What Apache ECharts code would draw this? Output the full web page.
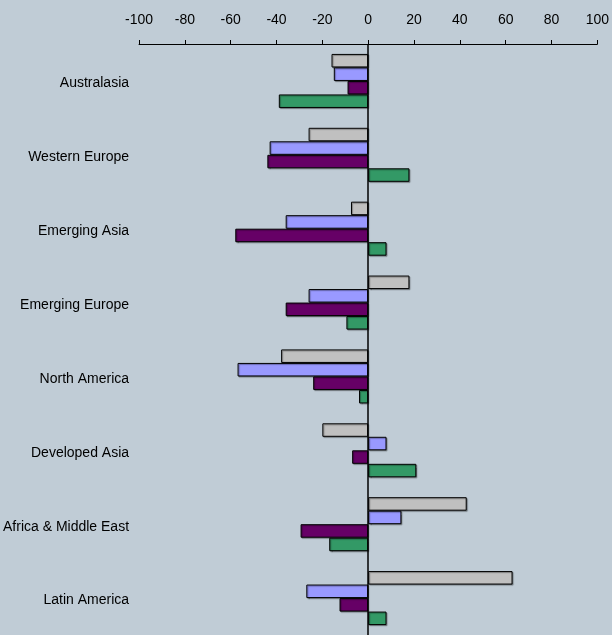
<!DOCTYPE html>
<html>
<head>
<meta charset="utf-8">
<script src="https://cdn.jsdelivr.net/npm/echarts@6/dist/echarts.min.js"></script>
<style>
  html, body { margin: 0; padding: 0; background: #c0ccd6; }
  #chart { width: 612px; height: 635px; }
</style>
</head>
<body>
<div id="chart"></div>
<script>
// Regions, listed top to bottom
const regions = ['Australasia', 'Western Europe', 'Emerging Asia', 'Emerging Europe',
  'North America', 'Developed Asia', 'Africa & Middle East', 'Latin America'];

// Four series per region (same order as regions)
const seriesGrey   = [-16, -26, -7.5, 18, -38, -20, 43, 63];
const seriesBlue   = [-15, -43, -36, -26, -57, 8, 14.5, -27];
const seriesPurple = [-9, -44, -58, -36, -24, -7, -29.5, -12.5];
const seriesGreen  = [-39, 18, 8, -9.5, -4, 21, -17, 8];

const xTicks = { min: -100, max: 100, step: 20 };

const fills = ['#c0c0c0', '#9999ff', '#660066', '#339966'];
const allSeries = [seriesGrey, seriesBlue, seriesPurple, seriesGreen];

const chart = echarts.init(document.getElementById('chart'));

const barSeries = allSeries.map((vals, i) => ({
  type: 'bar',
  data: vals,
  barGap: '0%',
  barCategoryGap: '26.9%',
  itemStyle: {
    color: fills[i],
    borderColor: '#000',
    borderWidth: 1,
    shadowColor: 'rgba(0,0,0,0.35)',
    shadowOffsetX: 1,
    shadowOffsetY: 1,
    shadowBlur: 1
  },
  silent: true
}));

// vertical zero line
barSeries[0].markLine = {
  silent: true,
  symbol: 'none',
  label: { show: false },
  lineStyle: { color: '#000', width: 1.5, type: 'solid' },
  data: [{ xAxis: 0 }]
};

chart.setOption({
  backgroundColor: '#c0ccd6',
  animation: false,
  grid: { left: 138, right: 14, top: 44, height: 594 },
  xAxis: {
    type: 'value',
    position: 'top',
    min: xTicks.min,
    max: xTicks.max,
    interval: xTicks.step,
    axisLine: { show: true, lineStyle: { color: '#000', width: 1 } },
    axisTick: { show: true, length: 4, lineStyle: { color: '#000' } },
    axisLabel: {
      margin: 17,
      color: '#000',
      fontFamily: 'Liberation Sans, Arial, sans-serif',
      fontSize: 14
    },
    splitLine: { show: false }
  },
  yAxis: {
    type: 'category',
    data: regions,
    inverse: true,
    axisLine: { show: false, onZero: false },
    axisTick: { show: false },
    axisLabel: {
      margin: 10,
      verticalAlign: 'top',
      lineHeight: 5,
      color: '#000',
      fontFamily: 'Liberation Sans, Arial, sans-serif',
      fontSize: 14
    }
  },
  series: barSeries
});
</script>
</body>
</html>
